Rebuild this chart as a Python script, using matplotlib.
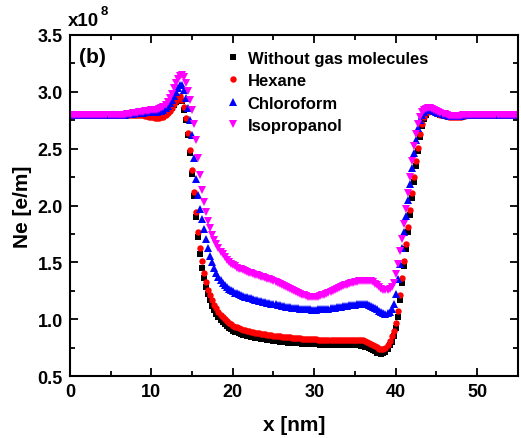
import numpy as np
import matplotlib
matplotlib.use("Agg")
import matplotlib.pyplot as plt

plt.rcParams['font.family'] = ['Liberation Sans', 'DejaVu Sans']
plt.rcParams['font.weight'] = 'bold'

# x positions [nm], one every 0.25 nm
x_nm = np.linspace(0, 55, 221)

# Ne values in units of 1e8 e/m, 20 values per 5 nm row
ne_without = [
    2.80, 2.80, 2.80, 2.80, 2.80, 2.80, 2.80, 2.80, 2.80, 2.80, 2.80, 2.80, 2.80, 2.80, 2.80, 2.80, 2.80, 2.80, 2.80, 2.80,  # 0
    2.80, 2.80, 2.80, 2.80, 2.80, 2.80, 2.80, 2.80, 2.80, 2.80, 2.80, 2.80, 2.80, 2.80, 2.80, 2.80, 2.80, 2.80, 2.795, 2.795,  # 5
    2.79, 2.79, 2.79, 2.79, 2.79, 2.795, 2.80, 2.81, 2.82, 2.84, 2.86, 2.885, 2.91, 2.935, 2.95, 2.92, 2.84, 2.75, 2.62, 2.46,  # 10
    2.28, 2.08, 1.90, 1.72, 1.57, 1.45, 1.36, 1.28, 1.22, 1.17, 1.12, 1.08, 1.05, 1.02, 0.995, 0.975, 0.955, 0.94, 0.925, 0.91,  # 15
    0.90, 0.89, 0.885, 0.878, 0.87, 0.865, 0.86, 0.855, 0.85, 0.845, 0.84, 0.837, 0.835, 0.832, 0.829, 0.826, 0.823, 0.82, 0.818, 0.815,  # 20
    0.81, 0.808, 0.806, 0.804, 0.80, 0.798, 0.796, 0.795, 0.793, 0.792, 0.79, 0.789, 0.788, 0.787, 0.786, 0.785, 0.784, 0.783, 0.782, 0.781,  # 25
    0.78, 0.779, 0.778, 0.777, 0.776, 0.775, 0.774, 0.773, 0.772, 0.772, 0.771, 0.771, 0.771, 0.771, 0.771, 0.771, 0.772, 0.772, 0.772, 0.772,  # 30
    0.772, 0.772, 0.771, 0.768, 0.765, 0.76, 0.754, 0.746, 0.737, 0.727, 0.717, 0.707, 0.70, 0.695, 0.70, 0.715, 0.74, 0.77, 0.80, 0.85,  # 35
    0.92, 1.02, 1.17, 1.32, 1.47, 1.62, 1.77, 1.92, 2.07, 2.21, 2.35, 2.48, 2.60, 2.70, 2.76, 2.80, 2.82, 2.825, 2.825, 2.82,  # 40
    2.81, 2.805, 2.80, 2.795, 2.79, 2.787, 2.784, 2.782, 2.78, 2.78, 2.78, 2.782, 2.785, 2.787, 2.79, 2.792, 2.795, 2.797, 2.798, 2.80,  # 45
    2.80, 2.80, 2.80, 2.80, 2.80, 2.80, 2.80, 2.80, 2.80, 2.80, 2.80, 2.80, 2.80, 2.80, 2.80, 2.80, 2.80, 2.80, 2.80, 2.80, 2.80,  # 50-55
]

ne_hexane = [
    2.80, 2.80, 2.80, 2.80, 2.80, 2.80, 2.80, 2.80, 2.80, 2.80, 2.80, 2.80, 2.80, 2.80, 2.80, 2.80, 2.80, 2.80, 2.80, 2.80,
    2.80, 2.80, 2.80, 2.80, 2.80, 2.80, 2.80, 2.80, 2.80, 2.80, 2.80, 2.80, 2.80, 2.80, 2.80, 2.80, 2.795, 2.79, 2.785, 2.78,
    2.778, 2.775, 2.773, 2.772, 2.772, 2.775, 2.78, 2.795, 2.81, 2.835, 2.86, 2.89, 2.92, 2.945, 2.96, 2.93, 2.87, 2.77, 2.64, 2.49,
    2.31, 2.12, 1.94, 1.77, 1.63, 1.51, 1.41, 1.33, 1.26, 1.21, 1.165, 1.125, 1.095, 1.065, 1.04, 1.02, 1.00, 0.985, 0.97, 0.955,
    0.945, 0.935, 0.928, 0.92, 0.914, 0.908, 0.903, 0.898, 0.894, 0.89, 0.886, 0.882, 0.879, 0.876, 0.873, 0.87, 0.867, 0.864, 0.862, 0.86,
    0.857, 0.855, 0.853, 0.85, 0.848, 0.846, 0.844, 0.842, 0.84, 0.838, 0.836, 0.834, 0.832, 0.831, 0.83, 0.828, 0.827, 0.826, 0.825, 0.824,
    0.823, 0.822, 0.821, 0.82, 0.819, 0.818, 0.818, 0.817, 0.817, 0.816, 0.816, 0.816, 0.816, 0.816, 0.817, 0.817, 0.818, 0.818, 0.819, 0.819,
    0.82, 0.82, 0.82, 0.818, 0.815, 0.81, 0.803, 0.795, 0.785, 0.775, 0.763, 0.752, 0.742, 0.735, 0.735, 0.745, 0.77, 0.805, 0.85, 0.90,
    0.97, 1.07, 1.21, 1.36, 1.51, 1.66, 1.81, 1.96, 2.11, 2.25, 2.39, 2.51, 2.63, 2.72, 2.78, 2.81, 2.825, 2.83, 2.83, 2.82,
    2.81, 2.805, 2.80, 2.795, 2.79, 2.786, 2.783, 2.78, 2.778, 2.778, 2.778, 2.78, 2.783, 2.786, 2.789, 2.792, 2.795, 2.797, 2.798, 2.80,
    2.80, 2.80, 2.80, 2.80, 2.80, 2.80, 2.80, 2.80, 2.80, 2.80, 2.80, 2.80, 2.80, 2.80, 2.80, 2.80, 2.80, 2.80, 2.80, 2.80, 2.80,
]

ne_chloroform = [
    2.80, 2.80, 2.80, 2.80, 2.80, 2.80, 2.80, 2.80, 2.80, 2.80, 2.80, 2.80, 2.80, 2.80, 2.80, 2.80, 2.80, 2.80, 2.80, 2.80,
    2.80, 2.80, 2.80, 2.80, 2.80, 2.80, 2.80, 2.80, 2.802, 2.804, 2.806, 2.808, 2.81, 2.812, 2.814, 2.816, 2.818, 2.82, 2.821, 2.822,
    2.823, 2.824, 2.825, 2.826, 2.828, 2.832, 2.84, 2.855, 2.875, 2.90, 2.93, 2.965, 3.00, 3.035, 3.06, 3.06, 3.02, 2.95, 2.86, 2.75,
    2.62, 2.42, 2.23, 2.09, 1.97, 1.88, 1.79, 1.71, 1.63, 1.56, 1.50, 1.45, 1.405, 1.37, 1.345, 1.32, 1.30, 1.285, 1.27, 1.257,
    1.245, 1.235, 1.228, 1.22, 1.213, 1.206, 1.20, 1.194, 1.188, 1.183, 1.178, 1.173, 1.168, 1.163, 1.158, 1.154, 1.15, 1.146, 1.142, 1.138,
    1.134, 1.13, 1.126, 1.122, 1.118, 1.115, 1.112, 1.109, 1.106, 1.103, 1.10, 1.098, 1.096, 1.094, 1.092, 1.09, 1.088, 1.087, 1.086, 1.085,
    1.085, 1.085, 1.086, 1.087, 1.088, 1.09, 1.092, 1.094, 1.097, 1.10, 1.103, 1.106, 1.109, 1.112, 1.115, 1.118, 1.12, 1.123, 1.125, 1.127,
    1.129, 1.131, 1.132, 1.133, 1.133, 1.132, 1.13, 1.126, 1.12, 1.112, 1.10, 1.088, 1.075, 1.063, 1.054, 1.05, 1.052, 1.062, 1.09, 1.13,
    1.22, 1.35, 1.49, 1.63, 1.77, 1.91, 2.05, 2.19, 2.33, 2.46, 2.58, 2.68, 2.75, 2.80, 2.825, 2.838, 2.843, 2.843, 2.84, 2.832,
    2.825, 2.817, 2.81, 2.803, 2.797, 2.792, 2.788, 2.786, 2.785, 2.785, 2.786, 2.788, 2.79, 2.792, 2.794, 2.796, 2.797, 2.798, 2.799, 2.80,
    2.80, 2.80, 2.80, 2.80, 2.80, 2.80, 2.80, 2.80, 2.80, 2.80, 2.80, 2.80, 2.80, 2.80, 2.80, 2.80, 2.80, 2.80, 2.80, 2.80, 2.80,
]

ne_isopropanol = [
    2.80, 2.80, 2.80, 2.80, 2.80, 2.80, 2.80, 2.80, 2.80, 2.80, 2.80, 2.80, 2.80, 2.80, 2.80, 2.80, 2.80, 2.80, 2.80, 2.80,
    2.80, 2.80, 2.80, 2.80, 2.80, 2.80, 2.80, 2.80, 2.803, 2.806, 2.809, 2.812, 2.815, 2.818, 2.821, 2.824, 2.827, 2.83, 2.832, 2.834,
    2.836, 2.838, 2.84, 2.843, 2.847, 2.855, 2.866, 2.885, 2.91, 2.945, 2.985, 3.03, 3.075, 3.11, 3.14, 3.15, 3.13, 3.08, 3.01, 2.93,
    2.84, 2.72, 2.58, 2.42, 2.27, 2.14, 2.03, 1.94, 1.86, 1.80, 1.745, 1.70, 1.66, 1.625, 1.595, 1.57, 1.545, 1.525, 1.505, 1.49,
    1.475, 1.465, 1.455, 1.446, 1.438, 1.43, 1.423, 1.416, 1.41, 1.404, 1.398, 1.392, 1.386, 1.38, 1.374, 1.368, 1.362, 1.356, 1.35, 1.344,
    1.335, 1.326, 1.317, 1.308, 1.30, 1.29, 1.28, 1.271, 1.262, 1.253, 1.245, 1.237, 1.23, 1.222, 1.215, 1.209, 1.203, 1.199, 1.196, 1.194,
    1.193, 1.195, 1.199, 1.204, 1.21, 1.217, 1.224, 1.232, 1.24, 1.249, 1.258, 1.266, 1.275, 1.283, 1.29, 1.297, 1.304, 1.31, 1.315, 1.32,
    1.325, 1.329, 1.333, 1.336, 1.338, 1.34, 1.34, 1.338, 1.333, 1.325, 1.313, 1.298, 1.282, 1.268, 1.258, 1.253, 1.255, 1.264, 1.28, 1.32,
    1.40, 1.49, 1.60, 1.71, 1.84, 1.97, 2.11, 2.25, 2.39, 2.52, 2.63, 2.72, 2.78, 2.82, 2.84, 2.852, 2.856, 2.855, 2.85, 2.843,
    2.835, 2.826, 2.817, 2.809, 2.802, 2.796, 2.791, 2.788, 2.786, 2.786, 2.787, 2.789, 2.791, 2.793, 2.795, 2.797, 2.798, 2.799, 2.80, 2.80,
    2.80, 2.80, 2.80, 2.80, 2.80, 2.80, 2.80, 2.80, 2.80, 2.80, 2.80, 2.80, 2.80, 2.80, 2.80, 2.80, 2.80, 2.80, 2.80, 2.80, 2.80,
]

labels = ['Without gas molecules', 'Hexane', 'Chloroform', 'Isopropanol']

fig = plt.figure(figsize=(5.21, 4.39), dpi=100)
ax = fig.add_axes([0.134, 0.141, 0.860, 0.777])

ax.plot(x_nm, ne_without, 's', color='black', ms=4, mew=0, label=labels[0])
ax.plot(x_nm, ne_hexane, 'o', color='red', ms=4.6, mew=0, label=labels[1])
ax.plot(x_nm, ne_chloroform, '^', color='blue', ms=5.2, mew=0, label=labels[2])
ax.plot(x_nm, ne_isopropanol, 'v', color='#ff00ff', ms=5.2, mew=0, label=labels[3])

ax.set_xlim(0, 55)
ax.set_ylim(0.5, 3.5)
ax.set_xticks([0, 10, 20, 30, 40, 50])
ax.set_xticks([5, 15, 25, 35, 45, 55], minor=True)
ax.set_yticks([0.5, 1.0, 1.5, 2.0, 2.5, 3.0, 3.5])
ax.set_yticks([0.75, 1.25, 1.75, 2.25, 2.75, 3.25], minor=True)
ax.set_yticklabels(['0.5', '1.0', '1.5', '2.0', '2.5', '3.0', '3.5'])
ax.tick_params(which='both', direction='in', top=True, right=True, width=1.3,
               labelsize=13, pad=5)
ax.tick_params(which='major', length=6)
ax.tick_params(which='minor', length=3.5)
for s in ax.spines.values():
    s.set_linewidth(1.5)

ax.set_xlabel('x [nm]', fontsize=15, fontweight='bold', labelpad=11)
ax.set_ylabel('Ne [e/m]', fontsize=15, fontweight='bold', labelpad=4)

ax.text(0.02, 0.92, '(b)', transform=ax.transAxes, fontsize=15, fontweight='bold')
fig.text(0.130, 0.940, 'x10', fontsize=13.5, fontweight='bold')
fig.text(0.193, 0.965, '8', fontsize=9.5, fontweight='bold')

ax.legend(loc='upper left', bbox_to_anchor=(0.315, 0.998), frameon=False,
          numpoints=1, handlelength=0.9, handletextpad=0.4, labelspacing=0.45,
          prop={'size': 12, 'weight': 'bold'})

fig.savefig('out.png', dpi=100)
